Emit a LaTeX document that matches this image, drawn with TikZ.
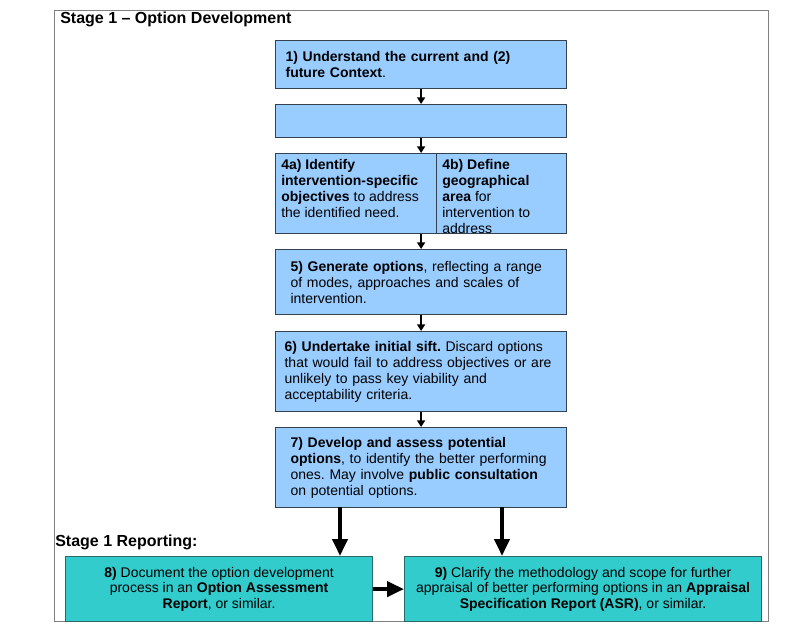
\documentclass[tikz,border=0pt]{standalone}
\usepackage{fontspec}
\setmainfont{Liberation Sans}
\usetikzlibrary{arrows.meta}
\usetikzlibrary{positioning}
\definecolor{boxblue}{HTML}{99CCFF}
\definecolor{boxteal}{HTML}{33CCCC}
\definecolor{boxline}{HTML}{34414E}
\definecolor{reportline}{HTML}{2B6868}
\definecolor{frameline}{HTML}{808080}
\frenchspacing

\begin{document}
\begin{tikzpicture}[x=0.75pt,y=-0.75pt]
            \tikzset{every node/.style={font=\fontsize{10.5}{12}\selectfont},
                    box/.style={draw=boxline, fill=boxblue, line width=0.9pt, anchor=north west, align=left, inner ysep=0pt},
                    report/.style={draw=reportline, fill=boxteal, line width=0.9pt, anchor=north west, align=center, inner sep=0pt, font=\fontsize{10.5}{11.6}\selectfont},
                    heading/.style={anchor=west, inner sep=0pt, font=\fontsize{12}{14}\selectfont\bfseries},
                    smallarrow/.style={line width=1.5pt, -{Triangle[length=5pt,width=6pt]}},
                    bigarrow/.style={line width=3pt, -{Triangle[length=12.75pt,width=11.25pt]}},
                    every edge/.style={draw=black}}
            \useasboundingbox (0,0) rectangle (804,636);
            \draw[frameline, line width=0.75pt] (54,10) rectangle (768,621);
            \node[heading] (stage) at (60,19) {Stage 1 -- Option Development};
            \node[heading] (reporting) at (55,542) {Stage 1 Reporting:};
            % option development steps
            \node[box, minimum width=218.25pt, minimum height=36pt, text width=203.25pt, inner xsep=7.5pt] (1) at (275,40)
                {\textbf{1) Understand the current and (2)}\\\textbf{future Context}.};
            \node[box, minimum width=218.25pt, minimum height=24.75pt] (2) at (275,104) {};
            \node[box, minimum width=120.75pt, minimum height=60pt] (4a) at (275,153) {};
            \node[box, minimum width=97.5pt, minimum height=60pt] (4b) at (436,153) {};
            \node[anchor=north west, align=left, inner xsep=4.5pt, inner ysep=4.3pt] (4atext) at (4a.north west)
                {\textbf{4a) Identify}\\\textbf{intervention-specific}\\\textbf{objectives} to address\\the identified need.};
            \begin{scope}
                \clip (4b.north west) rectangle (4b.south east);
                \node[anchor=north west, align=left, inner xsep=4.5pt, inner ysep=4.3pt] (4btext) at (4b.north west)
                    {\textbf{4b) Define}\\\textbf{geographical}\\\textbf{area} for\\intervention to\\address};
            \end{scope}
            \node[box, minimum width=218.25pt, minimum height=48.75pt, text width=195.75pt, inner xsep=11.25pt] (5) at (275,249)
                {\textbf{5) Generate options}, reflecting a range\\of modes, approaches and scales of\\intervention.};
            \node[box, minimum width=218.25pt, minimum height=60pt, text width=204.75pt, inner xsep=6.75pt] (6) at (275,331)
                {\textbf{6) Undertake initial sift.} Discard options\\that would fail to address objectives or are\\unlikely to pass key viability and\\acceptability criteria.};
            \node[box, minimum width=218.25pt, minimum height=60pt, text width=195.75pt, inner xsep=11.25pt] (7) at (275,427)
                {\textbf{7) Develop and assess potential}\\\textbf{options}, to identify the better performing\\ones. May involve \textbf{public consultation}\\on potential options.};
            % reporting
            \node[report, minimum width=230.25pt, minimum height=48.75pt] (8) at (65,556)
                {\textbf{8)} Document the option development\\process in an \textbf{Option Assessment}\\\textbf{Report}, or similar.};
            \node[report, minimum width=267.75pt, minimum height=48.75pt] (9) at (404,556)
                {\textbf{9)} Clarify the methodology and scope for further\\appraisal of better performing options in an \textbf{Appraisal}\\\textbf{Specification Report (ASR)}, or similar.};
            \coordinate (7a) at (340,507);
            \coordinate (7b) at (502,507);
            \path [smallarrow] (1) edge (2);
            \path [smallarrow] (2) edge (2 |- 4a.north);
            \path [smallarrow] (5 |- 4a.south) edge (5);
            \path [smallarrow] (5) edge (6);
            \path [smallarrow] (6) edge (7);
            \path [bigarrow] (7a) edge (7a |- 8.north);
            \path [bigarrow] (7b) edge (7b |- 9.north);
            \path [bigarrow] (8) edge (9);
        \end{tikzpicture}
\end{document}
